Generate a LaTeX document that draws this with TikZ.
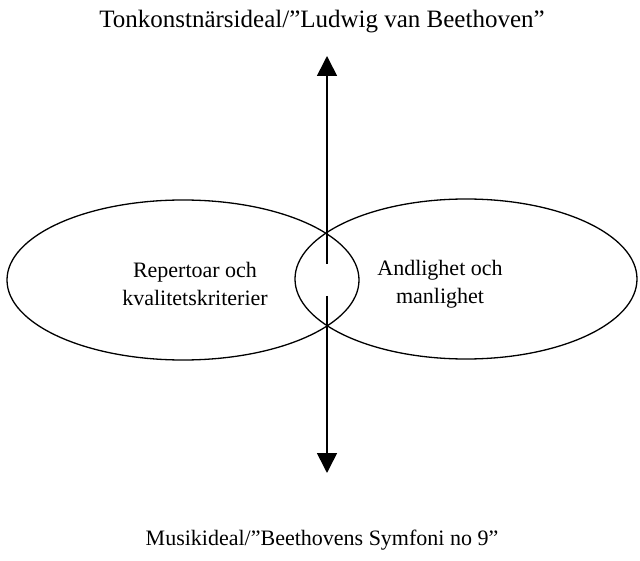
\documentclass[tikz,border=0pt]{standalone}
\usepackage{fontspec}
\setmainfont{Liberation Serif}
\usetikzlibrary{arrows.meta,shapes.geometric}
\begin{document}
\begin{tikzpicture}[x=1pt,y=-1pt,
  oval/.style={draw,line width=1.3pt,ellipse,minimum width=#1,minimum height=160pt,inner sep=0pt},
  lbl/.style={font=\fontsize{22}{28}\selectfont,align=center,inner sep=0pt},
  ttl/.style={font=\fontsize{#1}{29}\selectfont,inner sep=0pt},
  axis/.style={line width=1.6pt,-{Triangle[width=20pt,length=20pt]}}]
\useasboundingbox (0,0) rectangle (640,561);
\node[oval=352pt] (L) at (183,280) {};
\node[oval=342pt] (R) at (466,279) {};
\node[lbl] (lt) at (195,284) {Repertoar och\\kvalitetskriterier};
\node[lbl] (rt) at (440,284) {Andlighet och\\manlighet};
\node[ttl=25] (top) at (322,22) {Tonkonstnärsideal/”Ludwig van Beethoven”};
\node[ttl=22] (bot) at (322,540) {Musikideal/”Beethovens Symfoni no 9”};
\coordinate (gt) at (327,264);
\coordinate (gb) at (327,296);
\coordinate (tt) at (327,56);
\coordinate (bt) at (327,473);
\draw[axis] (gt) -- (tt);
\draw[axis] (gb) -- (bt);
\end{tikzpicture}
\end{document}
